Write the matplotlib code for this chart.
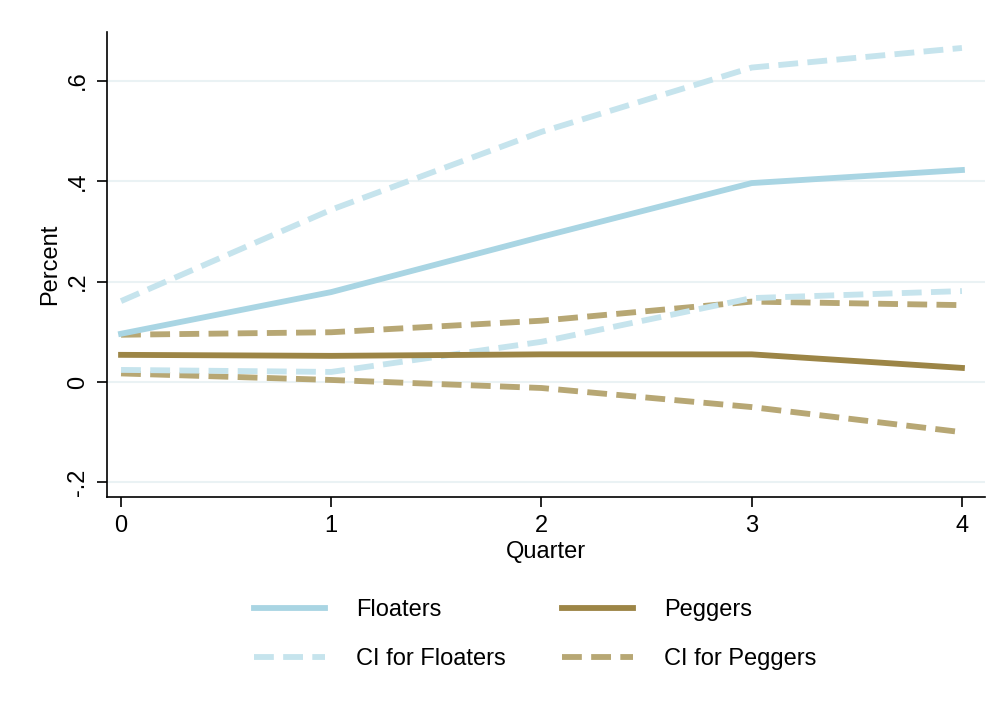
import matplotlib.pyplot as plt
from matplotlib.lines import Line2D

plt.rcParams['font.family'] = ['Liberation Sans', 'DejaVu Sans']

quarters = [0, 1, 2, 3, 4]
floaters = [0.096, 0.179, 0.289, 0.396, 0.422]
floaters_hi = [0.161, 0.343, 0.498, 0.626, 0.665]
floaters_lo = [0.024, 0.020, 0.080, 0.167, 0.181]
peggers = [0.054, 0.052, 0.055, 0.055, 0.028]
peggers_hi = [0.094, 0.099, 0.122, 0.160, 0.153]
peggers_lo = [0.017, 0.004, -0.012, -0.050, -0.100]

c_float = '#a9d5e3'
c_float_ci = '#c6e4ed'
c_peg = '#9c8546'
c_peg_ci = '#b7a774'
lw = 4.2
dash = (3.4, 1.6)

fig = plt.figure(figsize=(9.95, 7.25), dpi=100)
ax = fig.add_axes([0.1075, 0.3145, 0.8825, 0.6415])

ax.plot(quarters, peggers_lo, color=c_peg_ci, lw=lw, dashes=dash, dash_capstyle='butt')
ax.plot(quarters, peggers_hi, color=c_peg_ci, lw=lw, dashes=dash, dash_capstyle='butt')
ax.plot(quarters, floaters_lo, color=c_float_ci, lw=lw, dashes=dash, dash_capstyle='butt')
ax.plot(quarters, floaters_hi, color=c_float_ci, lw=lw, dashes=dash, dash_capstyle='butt')
ax.plot(quarters, peggers, color=c_peg, lw=lw)
ax.plot(quarters, floaters, color=c_float, lw=lw)

ax.set_xlim(-0.067, 4.11)
ax.set_ylim(-0.229, 0.697)
ax.set_xticks(quarters)
ax.set_yticks([-0.2, 0, 0.2, 0.4, 0.6])
ax.set_yticklabels(['-.2', '0', '.2', '.4', '.6'], rotation=90, va='center')
ax.tick_params(labelsize=17, length=7, width=1.2, colors='black', pad=6)
ax.grid(axis='y', color='#eaf2f4', lw=1.5)
ax.set_axisbelow(True)
for s in ['top', 'right']:
    ax.spines[s].set_visible(False)
for s in ['left', 'bottom']:
    ax.spines[s].set_linewidth(1.2)

ax.set_xlabel('Quarter', fontsize=17, labelpad=3)
ax.set_ylabel('Percent', fontsize=17, labelpad=4)

handles = [
    Line2D([], [], color=c_float, lw=lw),
    Line2D([], [], color=c_float_ci, lw=lw, dashes=dash, dash_capstyle='butt'),
    Line2D([], [], color=c_peg, lw=lw),
    Line2D([], [], color=c_peg_ci, lw=lw, dashes=dash, dash_capstyle='butt'),
]
labels = ['Floaters', 'CI for Floaters', 'Peggers', 'CI for Peggers']
fig.legend(handles, labels, ncol=2, loc='center', bbox_to_anchor=(0.538, 0.125),
           frameon=False, fontsize=17, handlelength=3.0, handletextpad=1.3,
           columnspacing=2.4, labelspacing=1.15)

fig.savefig('out.png', dpi=100)
